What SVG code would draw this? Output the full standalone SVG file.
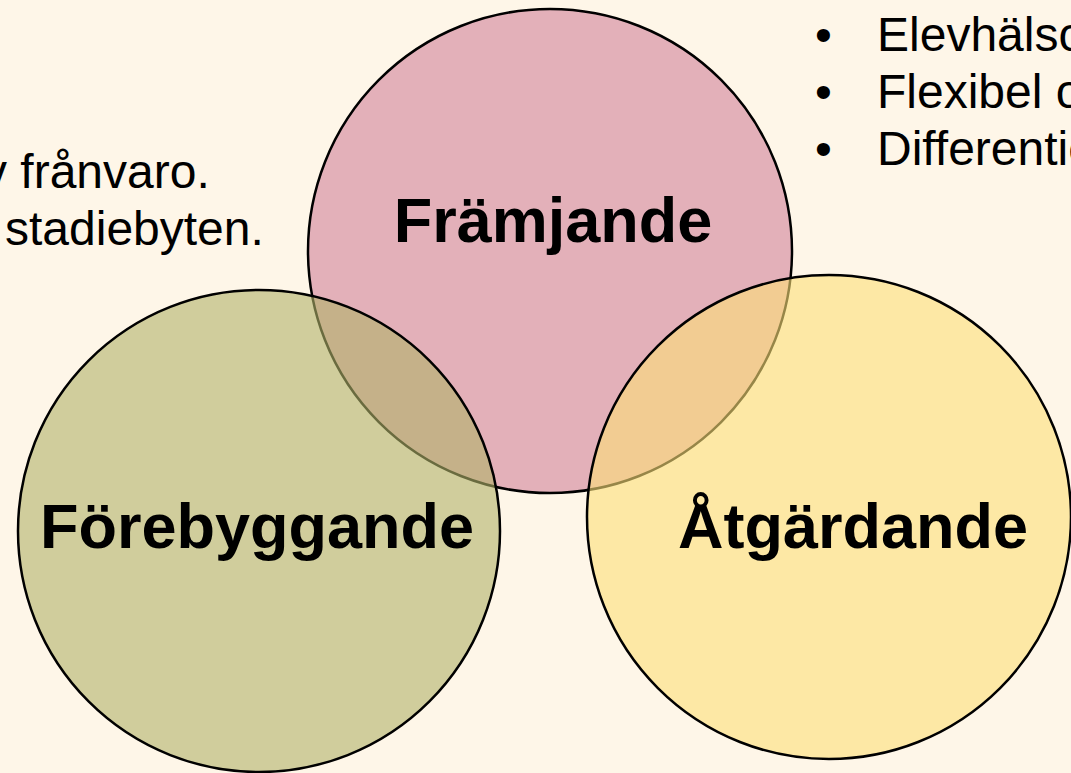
<svg xmlns="http://www.w3.org/2000/svg" width="1071" height="773" viewBox="0 0 1071 773">
<style>
.txt{font-family:"Liberation Sans",Arial,sans-serif;font-size:48px;fill:#000}
.lbl{font-family:"Liberation Sans",Arial,sans-serif;font-size:63px;font-weight:bold;fill:#000;text-anchor:middle}
.c{stroke:#000;stroke-width:2.5}
</style>
<rect width="1071" height="773" fill="#FEF6E8"/>
<g id="text-left">
<text class="txt" x="-17" y="188">v frånvaro.</text>
<text class="txt" x="5" y="245">stadiebyten.</text>
</g>
<g id="text-right">
<text class="txt" x="815" y="51">•</text>
<text class="txt" x="877" y="51">Elevhälso</text>
<text class="txt" x="815" y="108">•</text>
<text class="txt" x="877" y="108">Flexibel o</text>
<text class="txt" x="815" y="165">•</text>
<text class="txt" x="877" y="165">Differentie</text>
</g>
<g id="framjande">
<circle class="c" cx="550" cy="251" r="242" fill="#E3B0B9"/>
</g>
<g id="forebyggande">
<circle class="c" cx="259" cy="531" r="241" fill="#B1B369" fill-opacity="0.6"/>
</g>
<g id="atgardande">
<circle class="c" cx="829" cy="517" r="242" fill="#FCDF78" fill-opacity="0.6"/>
</g>
<g id="labels">
<text class="lbl" x="553" y="242">Främjande</text>
<text class="lbl" x="257" y="548">Förebyggande</text>
<text class="lbl" x="853" y="548">Åtgärdande</text>
</g>
</svg>
